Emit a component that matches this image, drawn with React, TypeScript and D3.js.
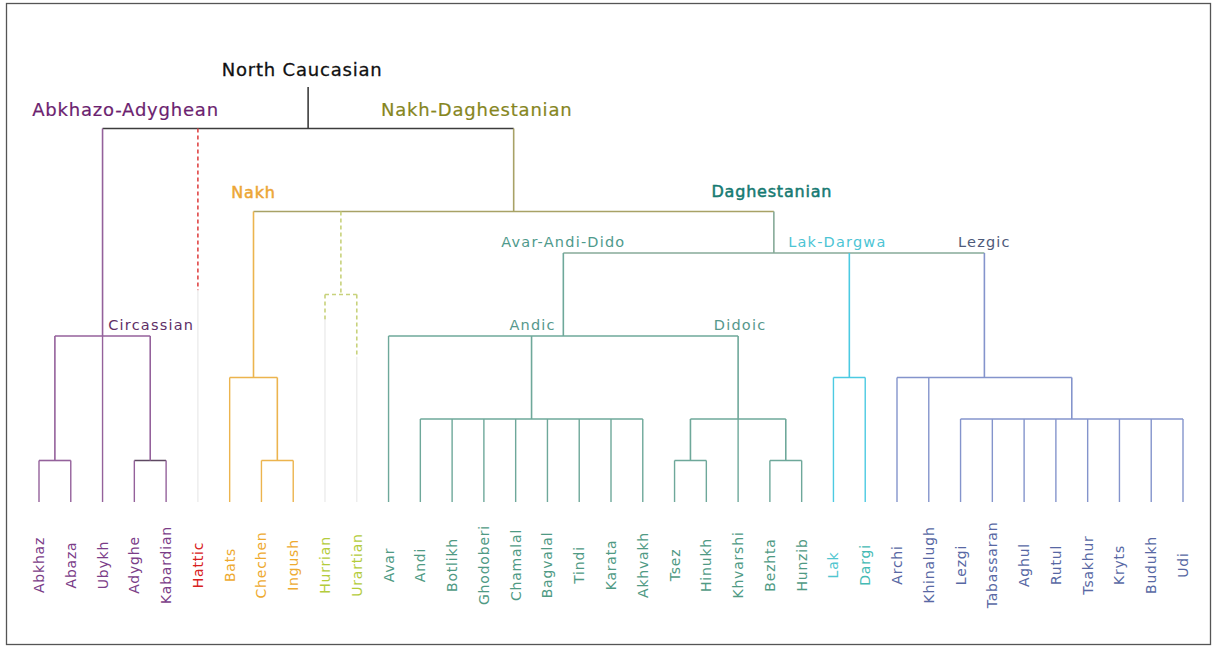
import * as d3 from "d3";

// leaves, left to right
const leaves = [
  "Abkhaz", "Abaza", "Ubykh", "Adyghe", "Kabardian", "Hattic",
  "Bats", "Chechen", "Ingush", "Hurrian", "Urartian",
  "Avar", "Andi", "Botlikh", "Ghodoberi", "Chamalal", "Bagvalal", "Tindi", "Karata", "Akhvakh",
  "Tsez", "Hinukh", "Khvarshi", "Bezhta", "Hunzib",
  "Lak", "Dargi",
  "Archi", "Khinalugh", "Lezgi", "Tabassaran", "Aghul", "Rutul", "Tsakhur", "Kryts", "Budukh", "Udi",
];

const leafParents = [
  "Abkhaz-Abaza", "Abkhaz-Abaza", "Abkhazo-Adyghean", "Circassian", "Circassian", "North Caucasian",
  "Nakh", "Chechen-Ingush", "Chechen-Ingush", "Hurro-Urartian", "Hurro-Urartian",
  "Avar-Andi-Dido", "Andic", "Andic", "Andic", "Andic", "Andic", "Andic", "Andic", "Andic",
  "Tsez-Hinukh", "Tsez-Hinukh", "Didoic", "Bezhta-Hunzib", "Bezhta-Hunzib",
  "Lak-Dargwa", "Lak-Dargwa",
  "Lezgic", "Lezgic", "Samur", "Samur", "Samur", "Samur", "Samur", "Samur", "Samur", "Samur",
];

// internal clades: name, parent, depth level of its bar
const clades = [
  "North Caucasian", "Abkhazo-Adyghean", "Abkhaz-Abaza", "Circassian",
  "Nakh-Daghestanian", "Nakh", "Chechen-Ingush", "Hurro-Urartian",
  "Daghestanian", "Avar-Andi-Dido", "Andic", "Didoic", "Tsez-Hinukh", "Bezhta-Hunzib",
  "Lak-Dargwa", "Lezgic", "Samur",
];
const cladeParents = [
  "", "North Caucasian", "Abkhazo-Adyghean", "Abkhazo-Adyghean",
  "North Caucasian", "Nakh-Daghestanian", "Nakh", "Nakh-Daghestanian",
  "Nakh-Daghestanian", "Daghestanian", "Avar-Andi-Dido", "Avar-Andi-Dido", "Didoic", "Didoic",
  "Daghestanian", "Daghestanian", "Lezgic",
];
const cladeLevels = [1, 6, 9, 9, 3, 7, 9, 5, 4, 6, 8, 8, 9, 9, 7, 7, 8];
const leafLevel = 10;

// labelled clades
const cladeLabels = [
  "North Caucasian", "Abkhazo-Adyghean", "Nakh-Daghestanian", "Nakh", "Daghestanian",
  "Avar-Andi-Dido", "Lak-Dargwa", "Lezgic", "Circassian", "Andic", "Didoic",
];

const W = 1212;
const H = 646;

const lineColor: Record<string, string> = {
  "North Caucasian": "#3c3c3c",
  "Abkhazo-Adyghean": "#94619b",
  Hattic: "#e04646",
  "Nakh-Daghestanian": "#a8a266",
  Nakh: "#ecb44e",
  "Hurro-Urartian": "#c8d27c",
  Daghestanian: "#86aa98",
  "Avar-Andi-Dido": "#6ea89a",
  "Lak-Dargwa": "#4ccae2",
  Lezgic: "#8494cc",
};
const barOverride: Record<string, string> = { Circassian: "#5e4862" };

const textColor: Record<string, string> = {
  "North Caucasian": "#111111",
  "Abkhazo-Adyghean": "#6c1f70",
  "Nakh-Daghestanian": "#86861e",
  Nakh: "#eca636",
  Daghestanian: "#167a72",
  "Avar-Andi-Dido": "#4f9a8c",
  "Lak-Dargwa": "#4cc4d4",
  Lezgic: "#4e5a7a",
  Circassian: "#5e2e66",
  Andic: "#56988c",
  Didoic: "#56988c",
};

// leaf label colours by group
const leafColor: Record<string, string> = {
  "Abkhazo-Adyghean": "#7b3d88",
  Hattic: "#d82020",
  Nakh: "#eeaa30",
  "Hurro-Urartian": "#b4cc3c",
  "Avar-Andi-Dido": "#4f9a84",
  Lak: "#50c6d0",
  Dargi: "#44bab4",
  Lezgic: "#5868a4",
};

const labelStyle: Record<string, { size: number; dx: number; gap: number; stroke?: number }> = {
  "North Caucasian": { size: 18, dx: -6, gap: 11, stroke: 0.3 },
  "Abkhazo-Adyghean": { size: 18, dx: 23, gap: 13, stroke: 0.2 },
  "Nakh-Daghestanian": { size: 18, dx: -37, gap: 13, stroke: 0.2 },
  Nakh: { size: 16, dx: 0, gap: 14, stroke: 0.5 },
  Daghestanian: { size: 16, dx: -2, gap: 15, stroke: 0.5 },
  "Avar-Andi-Dido": { size: 14.5, dx: 0, gap: 6 },
  "Lak-Dargwa": { size: 14.5, dx: -12, gap: 6 },
  Lezgic: { size: 14.5, dx: 0, gap: 6 },
  Circassian: { size: 14.5, dx: 1, gap: 6 },
  Andic: { size: 14.5, dx: 1, gap: 6 },
  Didoic: { size: 14.5, dx: 2, gap: 6 },
};

// dashed (uncertain) links: dash reaches this level, faint line after
const dashedNodes = new Set(["Hattic", "Hurro-Urartian", "Hurrian", "Urartian"]);
const dashEnd: Record<string, number> = { Hattic: 4.9, Hurrian: 5.6, Urartian: 6.5 };

type Row = { id: string; parent: string; level: number };

export default function App() {
  const rows: Row[] = [
    ...clades.map((c, i) => ({ id: c, parent: cladeParents[i], level: cladeLevels[i] })),
    ...leaves.map((l, i) => ({ id: l, parent: leafParents[i], level: leafLevel })),
  ];
  const root = d3
    .stratify<Row>()
    .id((d) => d.id)
    .parentId((d) => d.parent || null)(rows);

  const x = d3.scalePoint<string>().domain(leaves).range([39, 1183]);
  const y = d3.scaleLinear().domain([0, 10]).range([87, 502]);

  const px = new Map<string, number>();
  root.eachAfter((n) => {
    if (!n.children) px.set(n.id!, x(n.id!)!);
    else {
      const xs = n.children.map((c) => px.get(c.id!)!);
      px.set(n.id!, (d3.min(xs)! + d3.max(xs)!) / 2);
    }
  });

  const colorOf = (n: d3.HierarchyNode<Row>, map: Record<string, string>) => {
    let cur: d3.HierarchyNode<Row> | null = n;
    while (cur) {
      if (map[cur.id!]) return map[cur.id!];
      cur = cur.parent;
    }
    return "#333";
  };

  const segs: JSX.Element[] = [];
  root.each((n) => {
    const nx = px.get(n.id!)!;
    const col = colorOf(n, lineColor);
    const dashed = dashedNodes.has(n.id!);
    if (n.children) {
      const xs = n.children.map((c) => px.get(c.id!)!);
      segs.push(
        <line
          key={"bar" + n.id}
          x1={d3.min(xs)}
          x2={d3.max(xs)}
          y1={y(n.data.level)}
          y2={y(n.data.level)}
          stroke={barOverride[n.id!] || col}
          strokeWidth={1.6}
          strokeDasharray={dashed ? "4 3" : undefined}
        />
      );
    }
    const top = n.parent ? y(n.parent.data.level) : y(0);
    const bottom = y(n.data.level);
    if (dashed && dashEnd[n.id!] !== undefined) {
      const mid = y(dashEnd[n.id!]);
      segs.push(
        <line key={"d" + n.id} x1={nx} x2={nx} y1={top} y2={mid} stroke={col} strokeWidth={1.6} strokeDasharray="4 3" />,
        <line key={"f" + n.id} x1={nx} x2={nx} y1={mid} y2={bottom} stroke="#ececec" strokeWidth={1.4} />
      );
    } else {
      segs.push(
        <line
          key={"v" + n.id}
          x1={nx}
          x2={nx}
          y1={top}
          y2={bottom}
          stroke={col}
          strokeWidth={n.children ? 1.6 : 1.4}
          strokeDasharray={dashed ? "4 3" : undefined}
        />
      );
    }
  });

  const byId = new Map(root.descendants().map((n) => [n.id!, n]));

  return (
    <svg
      width={W}
      height={H}
      style={{ position: "absolute", left: 0, top: 0, display: "block", background: "#fff" }}
      fontFamily="'DejaVu Sans', Verdana, sans-serif"
    >
      <rect x={6.5} y={3.5} width={1204} height={641} fill="#fff" stroke="#555" strokeWidth={1.3} />
      {segs}
      {cladeLabels.map((id) => {
        const n = byId.get(id)!;
        const s = labelStyle[id];
        const barY = n.parent ? y(n.parent.data.level) : y(0);
        const c = colorOf(n, textColor);
        return (
          <text
            key={"l" + id}
            x={px.get(id)! + s.dx}
            y={barY - s.gap}
            textAnchor="middle"
            fontSize={s.size}
            fill={c}
            stroke={s.stroke ? c : undefined}
            strokeWidth={s.stroke}
            letterSpacing={s.size < 15 ? 1.2 : 0.8}
          >
            {id}
          </text>
        );
      })}
      {leaves.map((l) => {
        const n = byId.get(l)!;
        return (
          <text
            key={"t" + l}
            transform={`translate(${x(l)! + 5},565) rotate(-90)`}
            textAnchor="middle"
            fontSize={14}
            letterSpacing={0.8}
            fill={colorOf(n, leafColor)}
          >
            {l}
          </text>
        );
      })}
    </svg>
  );
}
